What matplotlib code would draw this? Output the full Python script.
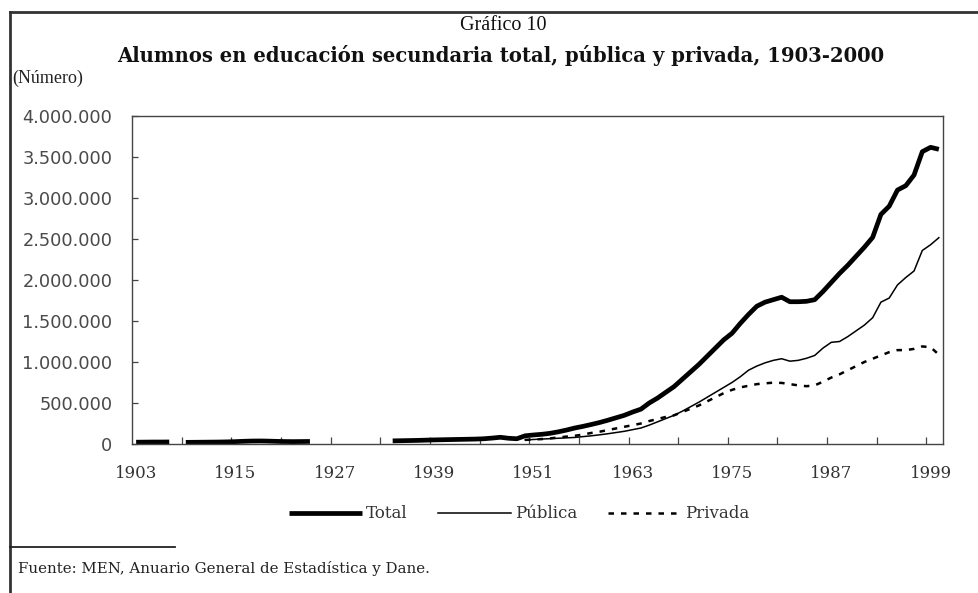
import numpy as np
import matplotlib
matplotlib.use("Agg")
import matplotlib.pyplot as plt
from matplotlib.lines import Line2D
from matplotlib.ticker import FuncFormatter, FixedLocator

# ---------------- data ----------------
years_total = (list(range(1903, 1908)) + list(range(1909, 1925)) +
               list(range(1934, 2001)))
total = [
    # 1903-1907
    22000, 23000, 24000, 24000, 25000,
    # 1909-1924
    20000, 21000, 22000, 23000, 24000, 26000, 29000, 33000, 36000, 37000,
    35000, 32000, 30000, 29000, 30000, 31000,
    # 1934-1949
    38000, 40000, 42000, 44000, 47000, 50000, 52000, 54000, 56000, 58000,
    60000, 64000, 72000, 82000, 70000, 64000,
    # 1950-2000
    100000, 110000, 118000, 130000, 148000, 170000, 195000, 215000, 238000,
    262000, 290000, 320000, 350000, 390000, 425000, 500000, 560000, 630000,
    700000, 790000, 880000, 970000, 1070000, 1170000, 1270000, 1350000,
    1470000, 1580000, 1680000, 1730000, 1760000, 1790000, 1735000, 1735000,
    1740000, 1760000, 1860000, 1970000, 2080000, 2180000, 2290000, 2400000,
    2520000, 2800000, 2900000, 3097000, 3150000, 3280000, 3565000, 3618000,
    3594000,
]
years_split = list(range(1950, 2001))
publica = [
    50000, 55000, 60000, 65000, 70000, 75000, 80000, 90000, 100000, 112000,
    125000, 140000, 155000, 175000, 195000, 230000, 270000, 310000, 350000,
    400000, 455000, 510000, 570000, 630000, 690000, 750000, 820000, 900000,
    950000, 990000, 1020000, 1040000, 1010000, 1020000, 1045000, 1080000,
    1170000, 1240000, 1250000, 1310000, 1380000, 1450000, 1540000, 1730000,
    1780000, 1940000, 2030000, 2110000, 2360000, 2430000, 2516000,
]
privada = [
    50000, 55000, 60000, 68000, 80000, 90000, 100000, 115000, 135000, 150000,
    170000, 190000, 210000, 230000, 250000, 280000, 305000, 330000, 350000,
    390000, 430000, 470000, 520000, 570000, 620000, 660000, 690000, 710000,
    730000, 740000, 748000, 745000, 730000, 715000, 705000, 715000, 760000,
    810000, 850000, 900000, 950000, 1000000, 1040000, 1080000, 1120000,
    1145000, 1145000, 1160000, 1190000, 1180000, 1090000,
]
yticks = [0, 500000, 1000000, 1500000, 2000000, 2500000, 3000000,
          3500000, 4000000]
xlabels = [1903, 1915, 1927, 1939, 1951, 1963, 1975, 1987, 1999]
legend_labels = ["Total", "Pública", "Privada"]

# full category range with gaps
all_years = np.arange(1903, 2001)
def on_full(yrs, vals):
    s = dict(zip(yrs, vals))
    return np.array([s.get(y, np.nan) for y in all_years], dtype=float)

tot_full = on_full(years_total, total)
pub_full = on_full(years_split, publica)
pri_full = on_full(years_split, privada)

# ---------------- figure ----------------
W, H = 979, 593
fig = plt.figure(figsize=(W / 100, H / 100), dpi=100)
fig.patch.set_facecolor("white")

def fx(px):
    return px / W

def fy(py):
    return 1 - py / H

ax = fig.add_axes([fx(132), fy(444), fx(943) - fx(132), fy(116) - fy(444)])

tot_style = dict(color="black", lw=3.4, solid_capstyle="butt", solid_joinstyle="round")
pub_style = dict(color="black", lw=1.1)
pri_style = dict(color="black", lw=1.8, linestyle=(0, (2.2, 2.8)))

ax.plot(all_years, tot_full, **tot_style)
ax.plot(all_years, pub_full, **pub_style)
ax.plot(all_years, pri_full, **pri_style)

ax.set_xlim(1902.5, 2000.5)
ax.set_ylim(0, 4000000)

for sp in ax.spines.values():
    sp.set_color("#444444")
    sp.set_linewidth(1.0)

ax.yaxis.set_major_locator(FixedLocator(yticks))
ax.yaxis.set_major_formatter(FuncFormatter(lambda v, p: f"{int(v):,}".replace(",", ".")))
ax.tick_params(axis="y", direction="in", length=4, width=0.9, color="#444444",
               pad=14, labelsize=12.8, labelcolor="#4a4a4a")
for t in ax.get_yticklabels():
    t.set_fontfamily("DejaVu Sans")

ax.xaxis.set_major_locator(FixedLocator(np.arange(1908.5, 2000, 6)))
ax.xaxis.set_major_formatter(FuncFormatter(lambda v, p: ""))
ax.xaxis.set_minor_locator(FixedLocator(xlabels))
ax.xaxis.set_minor_formatter(FuncFormatter(lambda v, p: f"{int(round(v))}"))
ax.tick_params(axis="x", which="major", direction="in", length=5, width=0.9,
               color="#444444")
ax.tick_params(axis="x", which="minor", length=0, pad=15, labelsize=12,
               labelcolor="#333333")
for t in ax.get_xticklabels(minor=True):
    t.set_fontfamily("DejaVu Serif")

# titles and notes
fig.text(fx(503), fy(25), "Gráfico 10", ha="center", va="center",
         family="Liberation Serif", fontsize=14.5, color="#111111")
fig.text(fx(501), fy(55),
         "Alumnos en educación secundaria total, pública y privada, 1903-2000",
         ha="center", va="center", family="DejaVu Serif", fontweight="bold",
         fontsize=14.1, color="#111111")
fig.text(fx(12), fy(78), "(Número)", ha="left", va="center",
         family="Liberation Serif", fontsize=13, color="#222222")
fig.text(fx(18), fy(569), "Fuente: MEN, Anuario General de Estadística y Dane.",
         ha="left", va="center", family="DejaVu Serif", fontsize=10.8,
         color="#222222")

# legend
handles = [Line2D([], [], **tot_style), Line2D([], [], **pub_style),
           Line2D([], [], **pri_style)]
fig.legend(handles, legend_labels, loc="center", bbox_to_anchor=(fx(519), fy(514)),
           ncol=3, frameon=False, prop={"family": "DejaVu Serif", "size": 12},
           handlelength=4.4, handletextpad=0.25, columnspacing=1.8,
           labelcolor="#333333")

# frame lines
fig.add_artist(Line2D([fx(10), fx(10)], [fy(12), fy(593)], transform=fig.transFigure,
                      color="#333333", lw=2.0))
fig.add_artist(Line2D([fx(10), fx(979)], [fy(12), fy(12)], transform=fig.transFigure,
                      color="#333333", lw=2.0))
fig.add_artist(Line2D([fx(10), fx(175)], [fy(547), fy(547)], transform=fig.transFigure,
                      color="#222222", lw=1.3))

fig.savefig("out.png", dpi=100)
